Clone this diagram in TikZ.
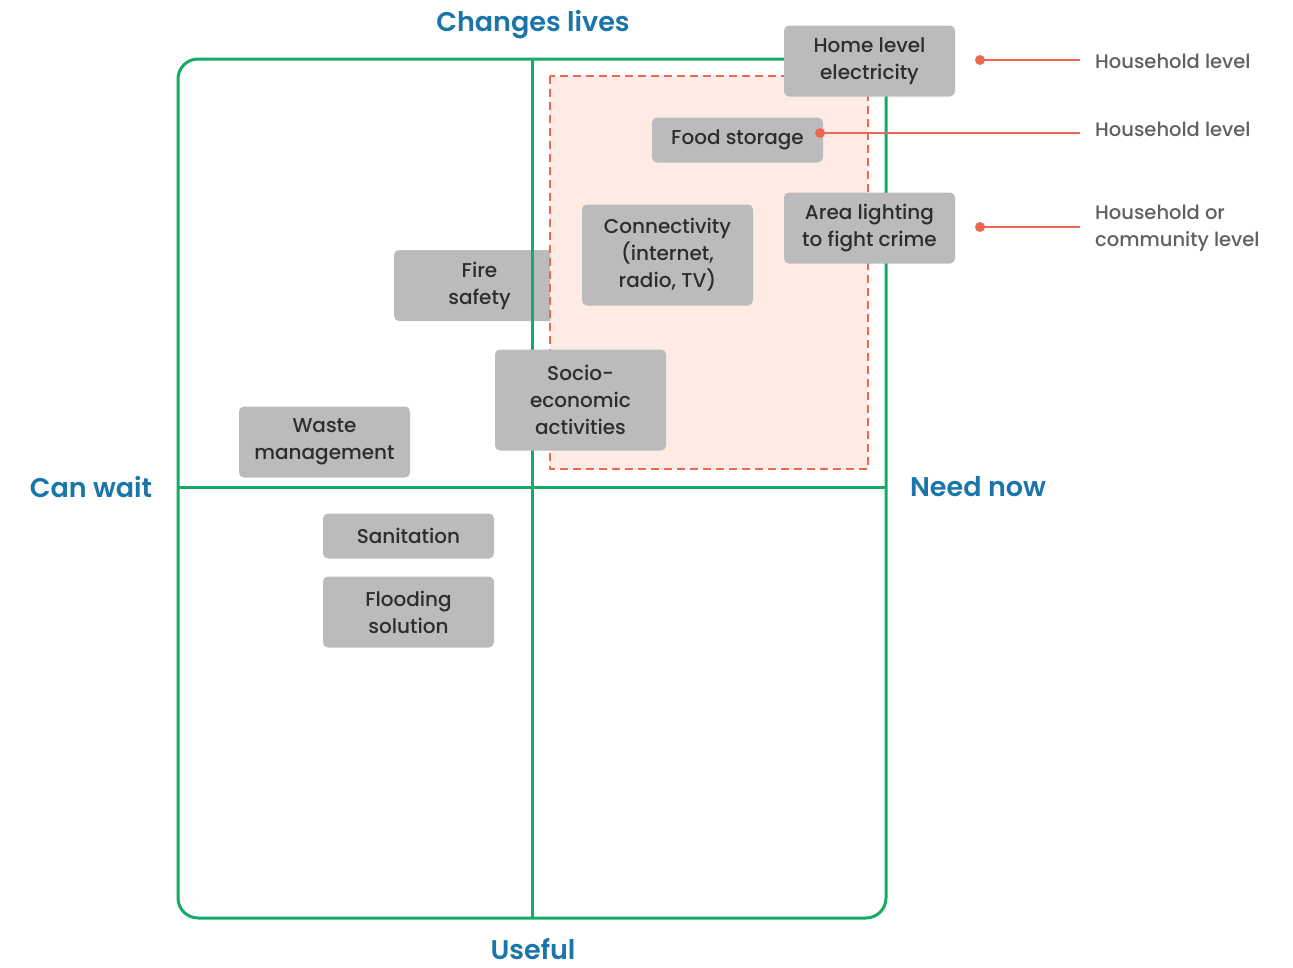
\documentclass[tikz,border=0pt]{standalone}
\usepackage{fontspec}
\setmainfont{Poppins}[BoldFont={Poppins SemiBold}]
\newfontfamily\medfont{Poppins Medium}
\definecolor{qgreen}{RGB}{20,170,104}
\definecolor{qblue}{RGB}{26,117,170}
\definecolor{qred}{RGB}{236,104,82}
\definecolor{qpink}{RGB}{253,235,228}
\definecolor{qgray}{RGB}{187,187,189}
\definecolor{qtext}{RGB}{45,45,45}
\definecolor{qlabel}{RGB}{96,96,96}
\tikzset{
  itembox/.style={fill=qgray, rounded corners=5pt, minimum width=171pt, align=center, text=qtext,
    font=\medfont\fontsize{20}{27}\selectfont, inner sep=0pt},
  axistitle/.style={text=qblue, font=\fontsize{27}{30}\selectfont\bfseries, inner sep=0pt},
  sidelabel/.style={anchor=west, text=qlabel, align=left, font=\medfont\fontsize{19.5}{27}\selectfont, inner sep=0pt},
  grid line/.style={draw=qgreen, line width=3pt},
  leader/.style={draw=qred, line width=2.5pt},
  leaderdot/.style={circle, fill=qred, inner sep=0pt, minimum size=10pt},
}
\begin{document}
\begin{tikzpicture}[x=1pt,y=-1pt]
\useasboundingbox (0,0) rectangle (1293,967);
% Fire safety box (behind lines)
\node[itembox, minimum height=71pt] (fire) at (479.5,285.5) {Fire\\safety};
% quadrant frame
\draw[grid line, rounded corners=20pt] (178,59) rectangle (886,918);
\coordinate (vtop) at (532,59);
\coordinate (vbot) at (532,918);
\coordinate (hl) at (178,487);
\coordinate (hr) at (886,487);
\draw[grid line] (vtop) -- (vbot);
\draw[grid line] (hl) -- (hr);
% dashed region
\draw[qred, fill=qpink, dash pattern=on 8pt off 5pt, line width=2.5pt] (550,76) rectangle (868,469);
% item boxes
\node[itembox, minimum height=71pt] (home) at (869.5,61) {Home level\\electricity};
\node[itembox, minimum height=45pt] (food) at (737.5,140) {Food storage};
\node[itembox, minimum height=71pt] (area) at (869.5,228) {Area lighting\\to fight crime};
\node[itembox, minimum height=101pt] (conn) at (667.5,255) {Connectivity\\(internet,\\radio, TV)};
\node[itembox, minimum height=101pt] (socio) at (580.5,400) {Socio-\\economic\\activities};
\node[itembox, minimum height=71pt] (waste) at (324.5,442) {Waste\\management};
\node[itembox, minimum height=45pt] (sani) at (408.5,536) {Sanitation};
\node[itembox, minimum height=71pt] (flood) at (408.5,612) {Flooding\\solution};
% axis titles
\node[axistitle] (tchg) at (533,25) {Changes lives};
\node[axistitle] (tuse) at (533,949) {Useful};
\node[axistitle] (twait) at (91,487) {Can wait};
\node[axistitle] (tneed) at (978,487) {Need now};
% leaders
\node[leaderdot] (d1) at (980,60) {};
\node[leaderdot] (d2) at (820,133) {};
\node[leaderdot] (d3) at (980,227) {};
\coordinate (e1) at (1080,60);
\coordinate (e2) at (1080,133);
\coordinate (e3) at (1080,227);
\draw[leader] (d1.center) -- (e1);
\draw[leader] (d2.center) -- (e2);
\draw[leader] (d3.center) -- (e3);
\node[sidelabel] (l1) at (1095,61) {Household level};
\node[sidelabel] (l2) at (1095,129) {Household level};
\node[sidelabel] (l3) at (1095,228) {Household or\\community level};
\end{tikzpicture}
\end{document}
